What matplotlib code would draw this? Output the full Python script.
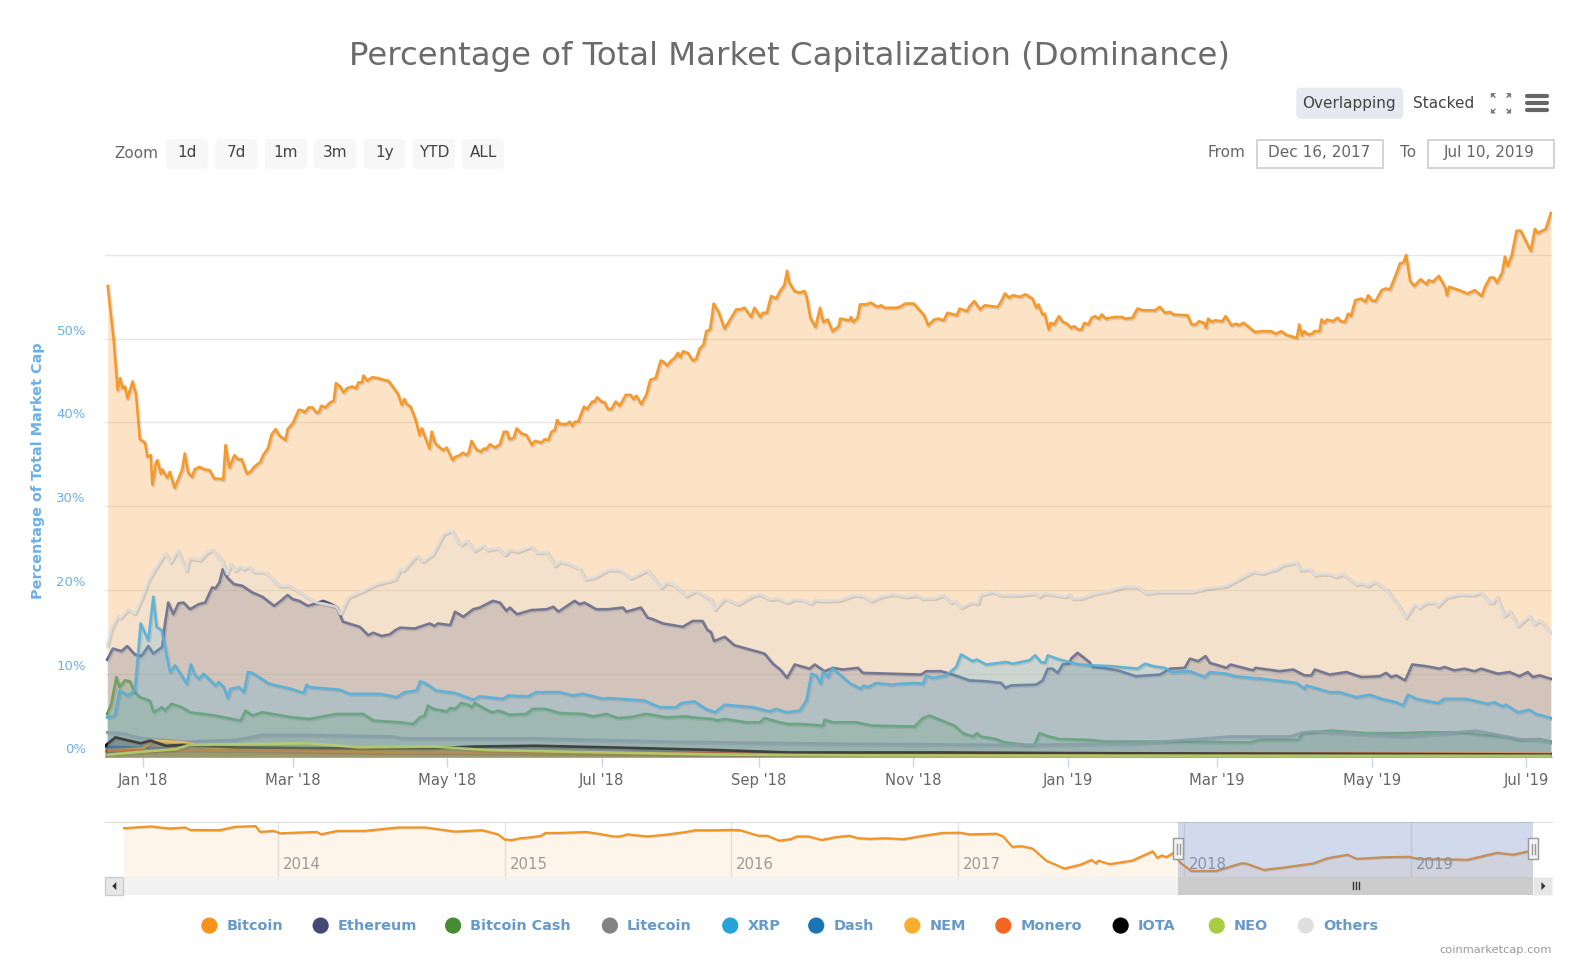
import matplotlib
matplotlib.use("Agg")
import matplotlib.pyplot as plt
import matplotlib.patheffects as pe
from matplotlib.patches import Rectangle, Circle, FancyBboxPatch, Polygon

# ---- data: (days since 16 Dec 2017, % dominance) ----
BITCOIN = [(1,56.3),(3.4,49.7),(4.9,43.9),(5.9,45.3),(6.9,44.1),(7.8,44.3),(8.8,42.9),(10.8,44.9),(12.2,43.3),(13.7,38),(15.7,37.6),(16.7,35.9),(18,36.1),(18.6,32.6),(20,35.2),(20.6,35.5),(22,33.9),(22.5,34.4),(24.5,33.4),(25.5,34.1),(27.4,32.2),(30.4,34.4),(31.4,36.3),(32.8,34),(34.3,33.5),(35.3,34.4),(37.2,34.7),(39.2,34.4),(41.2,34.3),(43.1,33.3),(45.1,33.3),(46.6,33.2),(47.5,37.3),(49,34.6),(51,36.1),(52.5,35.6),(53.9,35.6),(55.9,33.9),(57.2,34.1),(58.8,34.7),(61.3,35.3),(62.3,36.1),(64.2,36.9),(65.7,38.6),(67.3,39.2),(68.6,38.5),(71.2,37.9),(72,39.2),(74,39.9),(76.4,41.5),(77.4,41.5),(78.7,41.2),(80.4,41.8),(81.8,41.8),(83.3,41.2),(84.3,41.2),(85.3,42),(86.9,41.8),(88.8,42.4),(90.2,42.6),(91.1,44.7),(92.7,44.3),(94.1,43.6),(95.5,44.1),(97.5,44.3),(99,44.1),(100,44.8),(101.4,44.8),(101.9,45.6),(103.5,45),(105.4,45.4),(107.8,45.3),(109.8,45.1),(111.7,45),(113.7,44.2),(115.6,43.4),(117.1,42.1),(118.1,42.8),(119,42.2),(120.5,41.9),(122.5,40.4),(124.1,38.5),(125,39.3),(128,36.9),(128.9,38.9),(130.3,37.5),(133.3,36.7),(134.8,37),(137.2,35.5),(138.2,35.9),(140.1,36.1),(141.1,36.4),(142.6,36.1),(143.6,36.5),(144.6,37.8),(146.5,36.8),(148.3,36.5),(149.5,36.9),(150.4,36.8),(151.9,37.4),(153.9,37),
(155.8,37.4),(157.4,38.9),(158.7,38.9),(159.5,38),(161.3,38.2),(162.4,39.3),(164.3,38.7),(166.3,38.5),(168.5,37.3),(169.6,37.8),(172.2,37.6),(173.5,38),(174.9,37.9),(176.2,38.9),(177.5,39.1),(178.4,40.3),(179.5,39.8),(182.1,39.8),(183.4,40.1),(184.4,39.6),(185.4,40.1),(186.7,40.1),(189,41.9),(190.2,41.6),(192.3,42.5),(193.2,42.5),(194.2,43),(195.9,42.5),(197.2,42.4),(198.5,41.6),(199.8,41.6),(201.5,42.5),(203.1,42),(205.5,43.3),(207.4,43.3),(208.6,42.8),(209.7,43.2),(211.6,42.2),(213.6,43.3),(215.2,45.1),(217.3,45.3),(219.3,47.4),(220.2,47.3),(221.8,46.8),(223.5,47.4),(224.8,47.7),(226.1,48.3),(227,47.8),(228.1,48.5),(230,48.3),(232,47.4),(233.3,47.6),(234.6,48.8),(236.2,49.3),(237.3,50.9),(238.8,51.1),(240.2,54.2),(242.3,53.1),(244.5,51.2),(247.1,52.5),(249.1,53.5),(250.7,53.5),(252.4,53.7),(255,52.6),(256.3,53.7),(258.6,52.6),(259.6,53.1),(261.2,53.1),(262.9,55.1),(264.9,54.8),(266.4,55.7),(268.1,56.4),(269.2,58.1),(270.1,56.7),(272.1,55.7),(274.1,55.5),(276,55.7),(277,54.9),(278.4,52.5),(280.4,51.4),(282.2,53.7),(283.5,52),(285.2,52.3),(287.2,50.9),(289.6,51.5),(290.2,52.4),(293.8,52.2),(294.4,52.6),(295.3,52),(297,52.5),(298,54.1),(300.3,54.1),(302.3,54.3),(304.9,53.8),(306.3,54),(307.6,53.7),(310.2,53.7),(312.2,53.7),
(313.6,53.8),(316,54.2),(319.2,54.2),(323.3,52.8),(324.9,51.6),(327.3,52.3),(328.9,52.4),(331,52.2),(332.5,53.1),(336.2,52.8),(337.3,53.6),(340.2,53.3),(341.3,53.9),(343.1,54.5),(345.4,53.5),(347.2,54),(352.3,53.8),(353.6,54.4),(355.2,55.4),(356.8,54.9),(358.4,55.2),(361.2,55),(363.3,55.3),(366,54.8),(367.6,53.7),(368.4,54.1),(370,52.9),(370.9,53),(372.5,51.1),(373.3,51.9),(374.6,51.7),(376.5,52.7),(378.1,52),(379.7,51.8),(381.3,51.3),(382.5,51.5),(384.1,51.1),(385.4,51.1),(386.5,51.9),(388.1,51.7),(389.4,52.5),(390.7,52.7),(392.3,52.4),(393.4,52.9),(395,52.4),(398.3,52.6),(401.5,52.6),(402.6,52.4),(405.5,52.5),(407.5,53.6),(409.6,53.4),(414.4,53.4),(416.3,53.8),(418.4,53.1),(420.4,53.2),(421.7,52.9),(427.3,52.8),(428.9,51.7),(430.5,51.7),(431.8,52.1),(433.8,51.9),(434.6,51.3),(435.4,52.4),(437,52),(438.1,52.2),(441,52.1),(442.3,52.7),(444.6,51.6),(446.7,51.8),(447.5,51.6),(449.4,51.9),(453.9,50.8),(456.4,50.9),(460.4,50.9),(462,50.6),(464.4,50.9),(466,50.5),(470.4,50.1),(471.4,51.7),(472.5,50.4),(473.3,50.9),(474.9,50.5),(476.5,50.6),(477.3,50.9),(479.4,50.9),(480.2,52.3),(481.4,51.9),(482.3,52.3),(484.6,52.1),(486.5,52.5),(487.8,52.1),(489.4,52),(490.7,53),(491.8,52.7),(493.5,54.6),(495.9,54.8),(497.5,54.4),(498.6,55.2),(499.9,54.6),(501.5,54.5),(503.9,55.8),(505.5,56),(507.2,55.9),(510.1,58.1),(511.2,59),(512.5,59.1),(513.6,60),(515.2,56.9),(516.8,56.3),(519.3,57.1),(521.7,56.5),(522.5,57),(524.1,56.8),(526.5,57.5),(528.9,56.2),(529.7,55.2),(530.5,56.2),(534.6,55.8),(537.8,55.4),(540.7,55.8),(543.4,55.1),(544.7,56.2),(546.7,57.3),(548.3,57.3),(549.4,56.7),(551.5,57.9),(552.6,59.8),(553.6,58.7),(555.2,59.9),(557.2,62.9),(558.8,62.9),(562.8,60.5),(564.4,63.1),(565.7,62.6),(566.7,62.8),(568.7,63.1),(570.7,65)]

ETHEREUM = [(.8,11.7),(3,13),(6.4,12.7),(8.7,13.3),(11.7,12.3),(14.3,12.1),(17,13.3),(19,12.4),(22.5,13.2),(23.6,16),(24.9,18.5),(26.9,17.1),(28.9,18.4),(30.9,18.5),(33.5,17.7),(36.9,18.3),(39.5,18.5),(42.2,20.3),(43.5,20.2),(45.1,20.9),(46.4,22.5),(48.1,21.5),(50.8,20.7),(54.1,20.5),(58.1,19.7),(62,19.2),(66.7,18.1),(69.3,18.7),(72,19.4),(74,18.9),(76.6,18.7),(80,18.1),(83.3,18.4),(86,18.7),(88.6,18.4),(91.2,18),(93.9,16.2),(100.5,15.6),(103.8,14.6),(105.8,14.9),(109.1,14.5),(112.4,14.7),(114.5,15.2),(116.4,15.5),(122.2,15.4),(128.1,16),(130,15.7),(131.3,16),(136.2,15.8),(138.1,17.4),(141.4,16.8),(145.3,17.7),(147.9,17.9),(153,18.7),(155.8,18.5),(158.4,17.5),(159.7,17.9),(162.6,17.1),(168.2,17.6),(174.3,17.7),(176.9,18),(178.9,17.4),(185.3,18.7),(187.3,18.3),(189.2,18.5),(193.8,17.7),(198.5,17.7),(204.4,17.9),(205.7,17.4),(211.5,17.9),(214.1,16.7),(216.3,16.5),(220.2,16),(228,15.6),(231.9,16.3),(235.8,16.3),(237.8,15.2),(239.1,15),(240.4,13.9),(244.6,14.4),(248.4,13.4),(254.3,12.9),(260.3,12.4),(263.6,11.2),(266.8,10.4),(269.2,9.5),(272.2,11.1),(278.1,10.6),(280.1,11.1),(284,10.3),(287.3,10.7),(291.3,10.5),(297.2,10.7),(299.1,10.1),(311,10),(322.1,9.9),(324.1,10.3),(330,10.3),(334.6,9.9),(341.2,9.2),(347.8,9.1),(353.7,8.9),(355.4,8.3),(357.6,8.6),(367.5,8.7),(370.1,9.2),(372.1,10.6),(374,10.6),(376,10.1),(378,11.1),(380.6,11.2),(381.3,11.8),(383.9,12.5),(388.5,11.4),(389.8,10.8),(393.7,10.7),(399.7,10.4),(406.9,9.7),(416.4,9.9),(420.3,10.6),(426.2,10.7),(428.2,11.8),(431.5,11.5),(434.4,12.1),(436.1,11.3),(442.7,10.7),(444.2,11.1),(453.2,10.4),(454.1,10.7),(463.7,10.3),(469,10.5),(473.5,9.8),(476.2,9.8),(477.5,10.5),(483.4,9.9),(490,10.2),(495.9,9.6),(503.1,9.7),(505.7,10.1),(507.7,9.6),(509.7,9.8),(513.2,9.2),(516,11.1),(521.5,10.9),(526.8,10.6),(528.7,10.8),(532.7,10.4),(536.6,10.6),(540.6,10.3),(543.2,10.6),(549.8,10),(554.4,10.2),(558.3,9.7),(561.6,10.2),(563.6,9.6),(566.2,9.8),(570.7,9.4)]

BITCOIN_CASH = [(.8,5.2),(2.4,6.4),(4.4,9.6),(5.7,8.4),(7.7,9.2),(9.7,9.1),(11.7,7.8),(13.6,7.2),(17.6,6.8),(19.2,5.4),(22.3,6),(23.6,5.6),(26.2,6.4),(30.2,6),(33.5,5.4),(43.5,5),(53.4,4.4),(55.4,5.6),(58.1,5),(62,5.4),(73.9,4.8),(80.6,4.6),(91.2,5.2),(101.8,5.2),(106,4.4),(116.4,4.2),(121.6,4),(124.2,4.8),(126.1,5),(127.4,6.2),(129.4,5.8),(134.9,5.5),(136.2,5.9),(138.1,5.8),(140.5,6.5),(143.3,6.3),(144.6,6),(145.9,6.5),(151.1,5.6),(153,5.4),(155.2,5.6),(159.7,5.1),(166.2,5.2),(168.8,5.8),(173.7,5.8),(179.5,5.3),(188.6,5.2),(192.5,4.9),(197.9,5.2),(202.4,4.7),(207,4.8),(213.5,5.2),(221.5,4.8),(229.3,4.9),(234.5,4.7),(240,4.6),(241.3,4.4),(244.6,4.6),(253,4.2),(258.4,4.2),(260.3,4.7),(264.9,4.3),(269.4,4),(274.2,4),(283.4,3.8),(284,4.5),(287.3,4.2),(296.5,4.2),(303.1,3.8),(319.5,3.7),(322.8,4.7),(325.4,5),(332,4.2),(335.3,3.8),(338.6,2.9),(342.5,2.5),(344.1,2.9),(345.8,2.5),(351.7,2.2),(355,1.8),(363.5,1.5),(366.8,1.5),(368.8,2.9),(372.7,2.5),(376.7,2.2),(388.5,2.1),(395,1.9),(403,1.9),(419,1.9),(451.9,1.8),(455.8,2.1),(470.9,2.1),(472.9,2.9),(484.1,3.2),(497.9,2.9),(511,2.9),(520.2,3),(536,3),(542.5,2.7),(553,2.5),(558.3,2.1),(566.2,2.2),(570.7,1.9)]

LITECOIN = [(.8,3),(6.4,2.9),(14.3,2.3),(31.5,1.9),(51.4,2.1),(62,2.7),(80.6,2.7),(114,2.5),(117,2.3),(168,2.3),(222,1.9),(273,1.7),(311,1.6),(363,1.5),(408,1.7),(417.7,1.9),(444,2.5),(467.6,2.5),(472.9,3),(476.8,3.1),(513.6,2.5),(541.2,3.2),(558.3,2.2),(566.2,2.1),(570.7,1.8)]

XRP = [(.8,4.8),(3.7,5),(5.7,8),(9,7.4),(11.7,8),(14,16),(17,14),(19,19.2),(20.3,15.6),(22.3,15.2),(25.6,10.2),(27.6,11),(32.2,8.8),(33.8,11.1),(35.5,9.8),(37.1,9.4),(38.8,10),(43.5,8.6),(44.8,9),(46.8,8.4),(48.4,7.1),(49.4,8.2),(52.8,8.4),(54.8,7.8),(56.3,10.2),(58.1,10.1),(64.7,8.8),(73.3,8.2),(78.4,7.7),(79.5,8.7),(80.6,8.4),(92.5,8.1),(96.5,7.6),(108.5,7.6),(115,7.2),(118.3,7.8),(122.9,8),(124.4,9.1),(126.1,8.9),(130.7,8),(138.1,7.7),(145.3,6.9),(147.9,7.3),(157.1,7),(159.1,7.4),(166.9,7.3),(170.1,7.8),(179.5,7.8),(184.7,7.4),(188.6,7.6),(196.6,7),(198.5,7.1),(212.8,6.8),(218.9,6),(225.4,6),(227.4,6.5),(232.6,6.7),(237.1,5.8),(240.7,5.4),(244.6,6.3),(255.8,6),(262.3,5.5),(265,5.8),(268.9,5.4),(274.2,5.6),(276.8,6.8),(278.8,10),(280.7,9.8),(282.4,8.8),(283.4,10.3),(285.3,9.6),(287,10.7),(293.9,8.9),(298.2,8.2),(299.4,8.6),(301.1,8.4),(304.4,8.9),(310.3,8.7),(313.6,8.8),(320.2,8.9),(322.8,8.8),(324.1,9.8),(326.7,9.5),(332,9.8),(335.9,10.8),(337.9,12.3),(342.5,11.5),(344.1,11.7),(347.8,11.1),(355.6,11.4),(358.3,11.2),(364.8,11.6),(367.1,12.2),(369.4,11.4),(371.1,11.3),(372.1,12.2),(376.7,11.7),(384.5,11.1),(389.8,11),(397.7,10.9),(407.5,10.6),(410.5,11.2),(413.8,10.9),(418.4,10.7),(421,10.2),(428.2,10.3),(434.1,9.6),(436.1,10.2),(442.7,10),(446,9.7),(456.5,9.4),(470.3,8.9),(473.5,8.2),(474.2,8.6),(483.4,7.8),(487.3,7.8),(493.9,7.2),(499.2,7.5),(503.8,7),(509.7,6.6),(512.3,6.2),(514.3,7.5),(517.6,7),(526.1,6.5),(528.7,7),(537.3,7),(545.8,6.4),(548.4,6.6),(551.7,6.1),(553,6.3),(557.6,5.4),(562.2,5.7),(564.9,5.2),(566.2,5.1),(570.7,4.7)]

DASH = [(0,1.3),(10,1.2),(40,.9),(100,.7),(200,.5),(300,.4),(400,.3),(571,.25)]
NEM = [(0,.8),(15,1.1),(19,2),(31,1.8),(40,1.2),(60,1),(90,.7),(140,.6),(240,.35),(400,.2),(571,.1)]
MONERO = [(0,.8),(30,.9),(60,.8),(100,.7),(200,.6),(300,.5),(400,.45),(500,.5),(571,.45)]
IOTA = [(0,1.4),(4,2.4),(14,1.7),(18,2),(24,1.4),(31,1.5),(52,1.2),(90,1.1),(130,1.1),(145,1.3),(170,1.4),(200,1.2),(240,.9),(270,.6),(330,.6),(400,.5),(480,.45),(571,.35)]
NEO = [(0,.3),(15,.7),(28,1),(33,1.5),(60,1.6),(80,1.7),(100,1.2),(130,1.3),(150,.9),(180,.7),(240,.35),(300,.25),(400,.22),(571,.2)]

OTHERS = [(.8,13.4),(2.4,15.4),(5,16.9),(6.1,16.7),(9,17.7),(11.7,17.2),(14.3,18.9),(17,21.1),(19.6,22.5),(23.6,24.4),(25.8,23.3),(28.5,24.7),(32,22.3),(33.1,23.8),(37.5,23.6),(40.2,24.5),(42.4,24.8),(46.1,23.5),(48.1,21.9),(49.4,23.1),(51.4,22.3),(53,22.8),(54.8,22.5),(56.7,22.8),(58.7,22.2),(63.4,22.1),(68.7,20.5),(72.7,20.5),(78,19.5),(83.3,18.5),(87.2,18.3),(91.2,18),(92.8,17.1),(95.9,19.1),(101.8,19.9),(107.1,20.7),(112.4,21.1),(114.5,21.3),(116.4,22.5),(117.7,22.3),(122.9,24.1),(125.5,23.4),(129.4,24.3),(133.6,26.7),(136.8,27.1),(139.4,25.7),(140.7,25.4),(142.7,25.9),(145.9,24.7),(149.2,25.3),(150.7,24.8),(155.2,25),(157.8,24.2),(159.7,24.8),(163,24.6),(168.2,25.2),(170.4,24.5),(174.3,24.5),(177.6,22.9),(179.5,23.4),(183.4,23.1),(187.3,22.5),(189.5,21.3),(193.1,21.5),(198.5,22.4),(203.1,22.4),(207.6,21.4),(214.1,22.4),(219.6,20.3),(221.5,20.9),(224.8,20.6),(229.3,19.3),(233.2,19.9),(239.1,18.9),(240.7,17.7),(244.6,19),(249.8,18.3),(255.6,19.3),(258.4,19.5),(262.3,18.9),(265.6,19),(269.2,18.5),(272.2,18.9),(275.5,18.8),(278.8,18.4),(280.1,18.8),(284.7,18.7),(290,18.8),(295.8,19.4),(299.1,19.3),(302.4,18.7),(306.4,19.2),(311,19.5),(316.2,19.2),(320.2,19.4),(322.8,19),(327.4,19),(330.7,19.4),(334,18.5),(335.3,18.7),(337.9,17.9),(341.8,18.5),(344.5,18.4),(345.4,19.4),(350.4,19.8),(353.7,19.4),(360.9,19.4),(367.5,19.6),(368.8,19.2),(370.8,19.6),(379.3,19.2),(380.6,19.5),(381.9,19),(385.2,19),(389.8,19.5),(396.4,19.9),(402.3,20.4),(407.5,20.4),(410.9,19.6),(416.4,19.8),(429.5,19.8),(434.8,20.2),(442.7,20.5),(453.2,22.2),(457.1,22),(462.4,22.5),(465,23),(470.3,23.3),(471.8,22.4),(475.5,22.5),(477.5,21.8),(480.1,21.9),(483.4,21.9),(486,21.6),(488.7,21.9),(493.9,20.7),(496.5,20.8),(498.5,20.5),(501.1,21),(505.7,20.1),(510.3,18.3),(513.4,16.7),(516.9,18.3),(518.9,17.9),(521.5,18.5),(524.8,18.5),(526.1,18.1),(529.4,19.1),(534.6,19.5),(539.9,19.4),(543.2,19.7),(546.5,18.5),(547.8,18.5),(549.4,19.2),(552.4,16.9),(554.4,17.5),(557.6,15.7),(562.2,16.9),(564.2,15.9),(566.2,16.4),(570.7,15)]

NAVIGATOR_BTC = [(2013.32,92.6),(2013.44,94.9),(2013.52,92.1),(2013.59,93.5),(2013.61,90.2),(2013.74,89.8),(2013.81,94.4),(2013.9,95.4),(2013.92,87.5),(2013.98,88.8),(2014.01,85.6),(2014.17,87.5),(2014.19,84.2),(2014.26,88.8),(2014.38,88.8),(2014.53,93.5),(2014.65,93.5),(2014.78,87.9),(2014.9,89.8),(2014.97,84.2),(2015,77.2),(2015.03,76.3),(2015.07,78.9),(2015.12,80.3),(2015.16,82.2),(2015.18,86),(2015.24,86),(2015.36,87.4),(2015.42,84.6),(2015.48,81.3),(2015.51,81.3),(2015.54,84.1),(2015.63,81.3),(2015.71,83.6),(2015.8,87.4),(2015.84,89.7),(2015.93,89.7),(2016,90.2),(2016.04,89.7),(2016.12,82.2),(2016.16,82.2),(2016.21,75.6),(2016.26,77.5),(2016.29,81.3),(2016.34,81.3),(2016.4,76.5),(2016.46,80.3),(2016.52,82.2),(2016.56,78.9),(2016.61,78),(2016.68,78.9),(2016.76,77.5),(2016.83,81.3),(2016.93,86),(2017.01,86.4),(2017.05,84.1),(2017.17,85),(2017.2,81.3),(2017.24,67.1),(2017.28,68.1),(2017.33,64.8),(2017.39,48.3),(2017.47,37.5),(2017.54,42.7),(2017.59,49.3),(2017.61,44.6),(2017.62,48.3),(2017.67,43.6),(2017.77,48.3),(2017.83,56.8),(2017.86,61),(2017.88,52.1),(2017.9,55.4),(2017.92,53),(2017.95,58.7),(2017.98,46),(2018.03,34.2),(2018.14,34.2),(2018.25,44.6),(2018.27,44.6),(2018.35,35.7),(2018.44,39),(2018.57,44.6),(2018.63,51.5),(2018.72,56.4),(2018.76,50.8),(2018.88,52.9),(2018.99,53.6),(2019.03,50.8),(2019.25,49.5),(2019.38,59),(2019.45,56.4),(2019.51,60.5),(2019.54,63)]

SERIES_NAMES = ["Bitcoin","Ethereum","Bitcoin Cash","Litecoin","XRP","Dash","NEM","Monero","IOTA","NEO","Others"]
SERIES_DATA = [BITCOIN,ETHEREUM,BITCOIN_CASH,LITECOIN,XRP,DASH,NEM,MONERO,IOTA,NEO,OTHERS]
SERIES_COLORS = ["#f7931a","#454a75","#478b35","#838383","#27a2db","#1a75b5","#f9ae2e","#f26822","#000000","#a9cc45","#dfdfdf"]
X_TICK_DAYS = [15,74,135,196,258,319,380,439,500,561]
X_TICK_LABELS = ["Jan '18","Mar '18","May '18","Jul '18","Sep '18","Nov '18","Jan '19","Mar '19","May '19","Jul '19"]
Y_TICKS = [0,10,20,30,40,50,60]
NAV_YEARS = [2014,2015,2016,2017,2018,2019]
ZOOM_BUTTONS = ["1d","7d","1m","3m","1y","YTD","ALL"]

W, H = 1586, 974
SX, SY = 0.9887, 0.9875   # layout below is expressed on a slightly scaled pixel grid
GW, GH = W*SX, H*SY
plt.rcParams['font.family'] = ['DejaVu Sans']
fig = plt.figure(figsize=(W/100, H/100), dpi=100, facecolor='white')

def axes_px(x0, x1, ytop, ybot, **kw):
    return fig.add_axes([x0/GW, 1-ybot/GH, (x1-x0)/GW, (ybot-ytop)/GH], **kw)

ui = axes_px(0, GW, 0, GH, zorder=5)
ui.set_xlim(0, GW); ui.set_ylim(GH, 0); ui.axis('off'); ui.patch.set_alpha(0)

# ---- main chart ----
ax = axes_px(104, 1534, 200, 748, zorder=1)
ax.set_xlim(0, 571); ax.set_ylim(0, 548/8.27)
for s in ['top','left','right']:
    ax.spines[s].set_visible(False)
ax.spines['bottom'].set_color('#ccd6eb')
ax.set_yticks(Y_TICKS)
ax.yaxis.grid(True, color='#e6e6e6', lw=1)
ax.set_axisbelow(True)
ax.tick_params(axis='y', length=0, labelleft=False)
ax.set_xticks(X_TICK_DAYS)
ax.set_xticklabels(X_TICK_LABELS, fontsize=10.6, color='#666666')
ax.tick_params(axis='x', length=7, width=1, color='#ccd6eb', pad=4)

shadow = [pe.SimpleLineShadow(offset=(0.8,-0.8), shadow_color='black', alpha=0.12, linewidth=2.6), pe.Normal()]
for i, (name, data, col) in enumerate(zip(SERIES_NAMES, SERIES_DATA, SERIES_COLORS)):
    xs = [p[0] for p in data]; ys = [p[1] for p in data]
    ax.fill_between(xs, ys, 0, color=col, alpha=0.25, lw=0, zorder=2+i*0.1)
    ax.plot(xs, ys, color=col, lw=1.9, alpha=0.9, solid_joinstyle='round', zorder=2.05+i*0.1,
            path_effects=shadow)

for t in Y_TICKS[:-1]:
    ui.text(85, 748-t*8.27-7.5, f"{t}%", color='#6cb0e8', fontsize=9.5, ha='right', va='center')
ui.text(38, 465, "Percentage of Total Market Cap", color='#6cb0e8', fontsize=10.4, fontweight='bold',
        rotation=90, ha='center', va='center')

ui.text(781, 55.5, "Percentage of Total Market Capitalization (Dominance)", color='#6b6b6b',
        fontsize=23.3, ha='center', va='center')

# top right buttons
ui.add_patch(FancyBboxPatch((1283, 88), 103, 28, boxstyle="round,pad=0,rounding_size=3", fc='#e6e9f0', ec='#e6e9f0', lw=2))
ui.text(1333.5, 102, "Overlapping", fontsize=11, color='#444444', ha='center', va='center')
ui.text(1427, 102, "Stacked", fontsize=11, color='#444444', ha='center', va='center')
for sx, sy in [(-1,-1),(1,-1),(-1,1),(1,1)]:
    cx, cy = 1484+sx*7, 102+sy*7
    ui.add_patch(Polygon([(cx+sx*3, cy+sy*3),(cx-sx*2, cy+sy*3),(cx+sx*3, cy-sy*2)], fc='#777777', ec='none'))
    ui.plot([cx+sx*2, cx-sx*1], [cy+sy*2, cy-sy*1], color='#777777', lw=1)
for yy in [95, 102, 109]:
    ui.plot([1510, 1530], [yy, yy], color='#666666', lw=3, solid_capstyle='round')

# zoom buttons
ui.text(135, 152, "Zoom", fontsize=11, color='#666666', ha='center', va='center')
bx = 164
for lab in ZOOM_BUTTONS:
    ui.add_patch(FancyBboxPatch((bx+1, 138), 40, 28, boxstyle="round,pad=0,rounding_size=3", fc='#f7f7f7', ec='#f7f7f7', lw=1))
    ui.text(bx+21, 151, lab, fontsize=11, color='#444444', ha='center', va='center')
    bx += 48.8

# range inputs
ui.text(1213, 151, "From", fontsize=11, color='#666666', ha='center', va='center')
ui.add_patch(Rectangle((1243, 138), 124, 28, fc='white', ec='#cccccc', lw=1.2))
ui.text(1304, 151, "Dec 16, 2017", fontsize=11, color='#666666', ha='center', va='center')
ui.text(1392, 151, "To", fontsize=11, color='#666666', ha='center', va='center')
ui.add_patch(Rectangle((1412, 138), 124, 28, fc='white', ec='#cccccc', lw=1.2))
ui.text(1472, 151, "Jul 10, 2019", fontsize=11, color='#666666', ha='center', va='center')

# ---- navigator ----
nav = axes_px(104, 1534, 812, 866, zorder=2)
nav.set_xlim(2014+(104-275)/224, 2014+(1534-275)/224)
nav.set_ylim(26, 100.5)
nav.patch.set_alpha(0)
for s in ['left','right','bottom']:
    nav.spines[s].set_visible(False)
nav.spines['top'].set_color('#dddddd')
nav.set_yticks([])
nav.set_xticks(NAV_YEARS)
nav.tick_params(axis='x', length=0, labelbottom=False)
nav.xaxis.grid(True, color='#e6e6e6', lw=1)
nav.set_axisbelow(True)
nx = [p[0] for p in NAVIGATOR_BTC]; ny = [p[1] for p in NAVIGATOR_BTC]
nav.fill_between(nx, ny, 26, color='#f7931a', alpha=0.09, lw=0)
nav.plot(nx, ny, color='#f7931a', lw=1.5, path_effects=[pe.SimpleLineShadow(offset=(0.6,-0.6), shadow_color='black', alpha=0.2), pe.Normal()])
for yr in NAV_YEARS:
    nav.annotate(str(yr), (yr, 26), xytext=(3.5, 3.5), textcoords='offset points', fontsize=10.7, color='#999999', ha='left', va='bottom')

# mask, scrollbar
ui.add_patch(Rectangle((1165, 812), 351, 54, fc='#6685c2', alpha=0.3, ec='none'))
ui.add_patch(Rectangle((104, 866), 1430, 18, fc='#f2f2f2', ec='none'))
ui.add_patch(Rectangle((104, 866), 18, 18, fc='#e6e6e6', ec='#cccccc', lw=1))
ui.add_patch(Polygon([(111,875),(115,871),(115,879)], fc='#333333', ec='none'))
ui.add_patch(Rectangle((1516, 866), 18, 18, fc='#e6e6e6', ec='#f2f2f2', lw=1))
ui.add_patch(Polygon([(1528,875),(1524,871),(1524,879)], fc='#333333', ec='none'))
ui.add_patch(Rectangle((1165, 866), 351, 18, fc='#cccccc', ec='none'))
for dx in (-3, 0, 3):
    ui.plot([1341+dx, 1341+dx], [871, 878], color='#333333', lw=1)
for hx in (1165, 1516):
    ui.add_patch(Rectangle((hx-5, 828), 10, 20, fc='#f2f2f2', ec='#999999', lw=1))
    for dx in (-1.5, 1.5):
        ui.plot([hx+dx, hx+dx], [833, 843], color='#999999', lw=1)

# legend
LEGEND_DOTS = [207,317,448,603,722,807,902,992,1108,1203,1291]
for cx, name, col in zip(LEGEND_DOTS, SERIES_NAMES, SERIES_COLORS):
    ui.add_patch(Circle((cx, 914), 8, fc=col, ec='none'))
    ui.text(cx+17, 914, name, fontsize=10.4, fontweight='bold', color='#6699cc', ha='left', va='center')

ui.text(1534, 938, "coinmarketcap.com", fontsize=8.2, color='#999999', ha='right', va='center')

fig.savefig("out.png", dpi=100, facecolor='white')
